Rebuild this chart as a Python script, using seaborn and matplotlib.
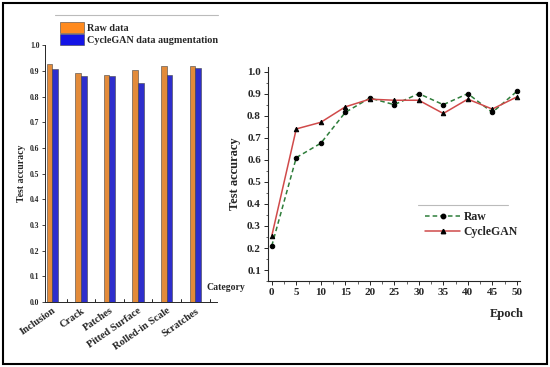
import numpy as np
import pandas as pd
import matplotlib
matplotlib.use('Agg')
import matplotlib.pyplot as plt
import seaborn as sns
from matplotlib.lines import Line2D
from matplotlib.patches import Rectangle
from matplotlib.ticker import MultipleLocator

# ── DATA ────────────────────────────────────────────────────────
categories = ['Inclusion', 'Crack', 'Patches', 'Pitted Surface',
              'Rolled-in Scale', 'Scratches']
raw_acc = [0.925, 0.893, 0.882, 0.905, 0.917, 0.920]
gan_acc = [0.908, 0.880, 0.880, 0.851, 0.883, 0.912]

epochs = [0, 5, 10, 15, 20, 25, 30, 35, 40, 45, 50]
raw_curve = [0.21, 0.61, 0.675, 0.815, 0.88, 0.85, 0.90, 0.85, 0.90, 0.815, 0.91]
gan_curve = [0.255, 0.74, 0.77, 0.84, 0.875, 0.87, 0.87, 0.81, 0.875, 0.83, 0.885]

bar_labels = ['Raw data', 'CycleGAN data augmentation']
line_labels = ['Raw', 'CycleGAN']

sns.set_style('ticks')
plt.rcParams['font.family'] = ['Liberation Serif', 'DejaVu Serif']
plt.rcParams['font.weight'] = 'bold'

bars = pd.DataFrame({
    'Category': categories * 2,
    'acc': raw_acc + gan_acc,
    'series': [bar_labels[0]] * 6 + [bar_labels[1]] * 6,
})
curves = pd.DataFrame({
    'Epoch': epochs * 2,
    'acc': raw_curve + gan_curve,
    'series': [line_labels[0]] * 11 + [line_labels[1]] * 11,
})

fig = plt.figure(figsize=(5.5, 3.67), dpi=100)

# ── LEFT: BAR CHART ─────────────────────────────────────────────
ax1 = fig.add_axes([0.082, 0.177, 0.313, 0.700])
sns.barplot(data=bars, x='Category', y='acc', hue='series',
            palette=['#FF8A1E', '#1414E6'], width=0.4, gap=0,
            edgecolor='#444444', linewidth=0.4, ax=ax1, legend=False)
ax1.set_ylim(0, 1.0)
ax1.set_xlim(-0.25, 5.77)
ax1.set_yticks(np.arange(0, 1.01, 0.1))
ax1.set_yticklabels([f'{v:.1f}' for v in np.arange(0, 1.01, 0.1)],
                    fontsize=5.5, fontweight='bold')
ax1.set_xticks(range(len(categories)))
ax1.set_xticklabels(categories, rotation=35, ha='right', fontsize=7.5,
                    fontweight='bold', rotation_mode='anchor')
ax1.tick_params(axis='x', length=0, pad=3)
ax1.tick_params(axis='y', length=2.5, width=0.6, pad=1.5)
for v in np.arange(0.5, 6, 1):
    ax1.axvline(v, ymin=0, ymax=0.012, color='black', lw=0.6)
ax1.set_xlabel('')
ax1.set_ylabel('Test accuracy', fontsize=7, fontweight='bold', labelpad=3)
sns.despine(ax=ax1)
for s in ['left', 'bottom']:
    ax1.spines[s].set_linewidth(0.7)
fig.text(0.376, 0.21, 'Category', fontsize=7, fontweight='bold')

# legend above the bars
leg_handles = [Rectangle((0, 0), 1, 1, fc=c, ec='#444444', lw=0.4)
               for c in ['#FF8A1E', '#1414E6']]
fig.legend(leg_handles, bar_labels, loc='upper left',
           bbox_to_anchor=(0.1, 0.955), frameon=False, fontsize=7.3,
           handlelength=2.4, handleheight=1.3, handletextpad=0.3,
           labelspacing=0.1, borderpad=0)
fig.add_artist(Line2D([0.1, 0.397], [0.958, 0.958], color='#bbbbbb', lw=0.8))

# ── RIGHT: LINE CHART ───────────────────────────────────────────
ax2 = fig.add_axes([0.487, 0.234, 0.458, 0.583])
sns.lineplot(data=curves, x='Epoch', y='acc', hue='series', style='series',
             palette=['#2E7D3A', '#D04A4A'], dashes=[(3, 2), ''],
             markers=['o', '^'], markersize=3.2, linewidth=1.1,
             markeredgecolor='black', ax=ax2, legend=False)
for line in ax2.lines:
    line.set_markerfacecolor('black')
ax2.set_xlim(-0.8, 50.6)
ax2.set_ylim(0.05, 1.02)
ax2.set_xticks(epochs)
ax2.set_yticks(np.arange(0.1, 1.01, 0.1))
ax2.set_yticklabels([f'{v:.1f}' for v in np.arange(0.1, 1.01, 0.1)],
                    fontsize=8, fontweight='bold')
ax2.set_xticklabels([str(e) for e in epochs], fontsize=8, fontweight='bold')
ax2.xaxis.set_minor_locator(MultipleLocator(2.5))
ax2.yaxis.set_minor_locator(MultipleLocator(0.05))
ax2.tick_params(which='major', length=3, width=0.7, pad=2)
ax2.tick_params(which='minor', length=1.8, width=0.5)
ax2.set_xlabel('')
ax2.set_ylabel('Test accuracy', fontsize=9, fontweight='bold', labelpad=4)
sns.despine(ax=ax2)
for s in ['left', 'bottom']:
    ax2.spines[s].set_linewidth(0.8)
fig.text(0.891, 0.135, 'Epoch', fontsize=9, fontweight='bold')

line_handles = [
    Line2D([], [], color='#2E7D3A', ls=(0, (3, 2)), lw=1.1, marker='o',
           ms=3.2, mfc='black', mec='black'),
    Line2D([], [], color='#D04A4A', lw=1.1, marker='^',
           ms=3.2, mfc='black', mec='black'),
]
ax2.legend(line_handles, line_labels, loc='upper left',
           bbox_to_anchor=(0.60, 0.355), frameon=False, fontsize=8.5,
           handlelength=3.0, handletextpad=0.3, labelspacing=0.25,
           borderpad=0)
fig.add_artist(Line2D([0.76, 0.924], [0.441, 0.441], color='#bbbbbb', lw=0.8))

# outer frame
fig.add_artist(Rectangle((0.006, 0.008), 0.988, 0.984, transform=fig.transFigure,
                         fill=False, ec='black', lw=1.5))

fig.savefig('out.png', dpi=100)
